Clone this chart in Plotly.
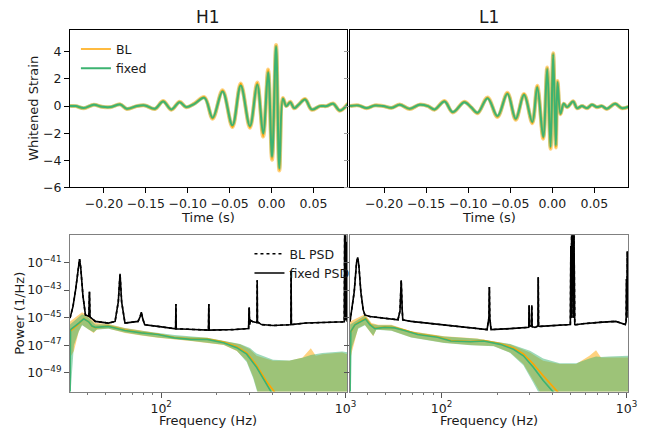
import numpy as np
import plotly.graph_objects as go

# ---------------- whitened strain data ----------------
h1_t = [-0.2405, -0.2338, -0.2240, -0.2121, -0.2023, -0.1924, -0.1806, -0.1727, -0.1609, -0.1511,
        -0.1392, -0.1294, -0.1195, -0.1097, -0.1018, -0.0920, -0.0801, -0.0703, -0.0585, -0.0467,
        -0.0368, -0.0258, -0.0171, -0.0100, -0.0041, 0.0006, 0.0054, 0.0093, 0.0136, 0.0176,
        0.0223, 0.0270, 0.0322, 0.0400, 0.0479, 0.0578, 0.0656, 0.0735, 0.0814, 0.0913]
h1_fixed = [0, 0, -0.147, 0.098, -0.049, -0.073, 0.122, -0.195, 0, 0.049,
            -0.195, 0.342, -0.244, 0.293, -0.073, 0.171, 0.611, -0.855, 1.074, -1.416,
            1.514, -1.465, 1.587, -2.027, 2.491, -3.736, 4.396, -4.591, 0.537, 0,
            0.293, -0.147, 0.098, 0.488, -0.244, 0, 0, 0.171, -0.317, 0.171]
h1_bl = [0, 0, -0.16, 0.1, -0.05, -0.08, 0.13, -0.21, 0, 0.05,
         -0.21, 0.37, -0.27, 0.32, -0.08, 0.19, 0.66, -0.93, 1.17, -1.55,
         1.66, -1.6, 1.74, -2.25, 2.7, -3.95, 4.5, -4.75, 0.6, 0,
         0.32, -0.16, 0.1, 0.53, -0.27, 0, 0, 0.19, -0.34, 0.19]

l1_t = [-0.2405, -0.2307, -0.2208, -0.2110, -0.2011, -0.1912, -0.1814, -0.1696, -0.1578, -0.1479,
        -0.1400, -0.1282, -0.1184, -0.1046, -0.0967, -0.0888, -0.0770, -0.0652, -0.0534, -0.0435,
        -0.0336, -0.0238, -0.0179, -0.0108, -0.0061, -0.0021, 0.0010, 0.0042, 0.0062, 0.0097,
        0.0136, 0.0176, 0.0247, 0.0294, 0.0353, 0.0412, 0.0471, 0.0530, 0.0589, 0.0649,
        0.0747, 0.0826, 0.0928]
l1_fixed = [0, 0.049, -0.147, 0.049, 0, -0.122, 0.098, -0.195, 0.098, 0,
            -0.244, 0.342, -0.440, 0.293, -0.073, -0.488, 0.586, -0.733, 0.904, -0.928,
            0.830, -1.172, 1.392, -2.271, 2.735, -3.004, 3.834, -2.882, 1.758, -0.562,
            0.171, -0.073, 0.342, -0.147, 0, -0.147, 0.098, -0.073, 0, -0.195,
            0.171, -0.147, 0]
l1_bl = [0, 0.055, -0.16, 0.055, 0, -0.13, 0.11, -0.21, 0.11, 0,
         -0.26, 0.37, -0.47, 0.32, -0.08, -0.52, 0.64, -0.8, 0.98, -1.0,
         0.9, -1.26, 1.5, -2.4, 2.85, -3.15, 3.9, -3.05, 1.85, -0.6,
         0.18, -0.08, 0.36, -0.16, 0, -0.16, 0.1, -0.08, 0, -0.21,
         0.18, -0.16, 0]

time_ticks = [-0.20, -0.15, -0.10, -0.05, 0.00, 0.05]
time_ticktext = ["\u22120.20", "\u22120.15", "\u22120.10", "\u22120.05", "0.00", "0.05"]
strain_ticks = [-6, -4, -2, 0, 2, 4]
strain_ticktext = ["\u22126", "\u22124", "\u22122", "0", "2", "4"]

# ---------------- PSD data (log10 power) ----------------
h1_psd_f = [32.0, 33.2, 34.3, 35.4, 36.05, 36.6, 37.6, 38.8, 40.1, 40.5, 40.8, 41.1, 43.9, 51.7, 56.2, 58.5,
            59.8, 61.0, 63.6, 74.9, 77.0, 78.0, 79.5, 81.4, 95.9, 117.8, 119.7, 120.2, 120.7, 150,
            180.5, 181.3, 182.1, 250, 298, 299.6, 300.4, 301.5, 306, 315, 330.8, 331.8, 332.8, 350,
            404, 496.5, 505.5, 506.9, 508.5, 609.6, 748.8, 958.3, 985, 990, 995, 1000, 1005, 1010,
            1015, 1024]
h1_psd_logp = [-45.03, -44.2, -43.0, -41.3, -40.76, -41.4, -43.4, -44.80, -44.91, -44.9, -43.13, -44.95,
               -45.27, -45.39, -45.27, -43.85, -41.83, -43.85, -45.39, -45.27, -44.9, -44.61, -45.1,
               -45.51, -45.63, -45.79, -45.8, -44.01, -45.8, -45.85, -45.9, -44.01, -45.9, -45.86,
               -45.78, -44.4, -44.27, -45.5, -45.2, -45.3, -45.35, -42.30, -45.3, -45.5, -45.57,
               -45.51, -45.5, -41.59, -45.5, -45.39, -45.34, -45.27, -45.3, -38.5, -45.1, -38.8,
               -45.2, -39.5, -45.2, -45.3]

l1_psd_f = [32.0, 33.7, 34.7, 35.2, 35.7, 36.6, 37.7, 38.5, 40.9, 45.4, 51.3, 58.1, 59.6, 60.5, 61.3,
            61.7, 68.4, 84.0, 103.2, 126.8, 155.7, 176.2, 180.3, 181.3, 182.3, 185.1, 234.9, 294.5,
            296, 297.5, 299, 306.5, 307.5, 309, 319.8, 332.2, 333.2, 334.5, 340.1, 384.7, 492.4,
            497, 500, 503, 505, 510, 515, 520, 525, 530.1, 580.3, 742.7, 875.4, 985, 995, 1000,
            1004, 1010, 1016, 1022, 1024]
l1_psd_logp = [-45.27, -43.13, -41.0, -40.64, -41.21, -43.13, -44.44, -44.80, -44.91, -44.99, -45.10,
               -45.15, -44.5, -42.30, -44.5, -45.15, -45.27, -45.39, -45.51, -45.63, -45.74, -45.86,
               -45.0, -42.78, -45.0, -45.86, -45.79, -45.70, -45.7, -44.1, -45.6, -45.6, -44.1,
               -45.65, -45.70, -45.6, -42.07, -45.6, -45.63, -45.58, -45.51, -45.5, -39.81, -45.0,
               -38.5, -38.5, -45.0, -39.0, -45.5, -45.51, -45.44, -45.32, -45.27, -45.5, -45.3,
               -42.2, -45.0, -40.2, -44.5, -41.0, -44.0]

# signal spectra: medians
h1_fixed_med_f = [32.0, 32.2, 35.7, 38.0, 40.4, 42.1, 43.9, 51.7, 56.2, 63.6, 78.0, 95.9, 117.8, 144.6,
                  177.6, 218.2, 257.2, 290.9, 329.2, 372.4, 404.3, 430]
h1_fixed_med = [-51.0, -45.86, -45.4, -45.08, -45.3, -45.6, -45.70, -45.63, -45.74, -45.93, -46.10,
                -46.22, -46.46, -46.57, -46.57, -46.81, -47.17, -47.64, -48.59, -49.78, -50.49, -51.2]
h1_bl_med_f = [32.0, 35.7, 38.0, 40.4, 42.1, 43.9, 51.7, 56.2, 63.6, 78.0, 95.9, 117.8, 144.6, 177.6,
               218.2, 257.2, 290.9, 329.2, 372.4, 412.7, 440]
h1_bl_med = [-46.0, -45.45, -45.05, -45.3, -45.62, -45.72, -45.6, -45.72, -45.9, -46.08, -46.2, -46.43,
             -46.55, -46.55, -46.76, -47.1, -47.55, -48.45, -49.6, -50.4, -51.0]

# signal spectra: credible bands (upper / lower)
h1_bl_up_f = [32.0, 37.2, 40.4, 43.9, 51.7, 63.6, 78.0, 117.8, 177.6, 268.0, 303.1, 329.2, 404.3, 496.5,
              585.2, 648.5, 690.0, 748.8, 958.3, 1024]
h1_bl_up = [-45.27, -44.61, -44.91, -45.39, -45.46, -45.74, -45.93, -46.34, -46.46, -46.93, -47.29,
            -47.76, -48.12, -48.12, -47.88, -47.22, -47.76, -47.64, -47.52, -47.64]
h1_bl_lo_f = [32.0, 33.6, 35.7, 37.2, 40.4, 43.0, 44.8, 51.7, 63.6, 78.0, 95.9, 144.6, 218.2, 257.2,
              290.9, 315.9, 336.0, 360, 1024]
h1_bl_lo = [-47.88, -47.41, -46.0, -45.51, -45.86, -46.10, -45.86, -45.79, -46.10, -46.29, -46.46,
            -46.69, -46.98, -47.41, -48.12, -49.30, -50.49, -52.0, -52.0]
h1_fx_up_f = [32.0, 37.2, 40.4, 43.9, 51.7, 63.6, 78.0, 117.8, 177.6, 268.0, 303.1, 329.2, 404.3, 496.5,
              585.2, 648.5, 748.8, 958.3, 1024]
h1_fx_up = [-45.5, -44.75, -45.0, -45.5, -45.5, -45.76, -45.95, -46.25, -46.46, -46.9, -47.2, -47.6,
            -48.05, -48.1, -47.9, -47.7, -47.55, -47.45, -47.5]
h1_fx_lo_f = [32.0, 33.6, 35.7, 37.2, 40.4, 43.0, 44.8, 51.7, 63.6, 78.0, 95.9, 144.6, 218.2, 257.2,
              290.9, 315.9, 336.0, 360, 1024]
h1_fx_lo = [-51.0, -47.0, -46.0, -45.55, -45.85, -46.05, -45.85, -45.8, -46.08, -46.27, -46.44, -46.67,
            -46.95, -47.4, -48.2, -49.4, -50.6, -52.0, -52.0]

l1_fixed_med_f = [32.0, 32.3, 34.0, 36.9, 38.8, 40.9, 43.6, 49.3, 55.7, 63.0, 74.3, 95.1, 112.1, 143.4,
                  169.1, 207.7, 244.8, 276.9, 313.3, 354.4, 400.9, 430]
l1_fixed_med = [-51.0, -45.98, -45.51, -45.22, -45.10, -45.51, -45.79, -45.70, -45.74, -45.93, -46.22,
                -46.41, -46.69, -46.74, -46.69, -46.93, -47.29, -47.76, -48.59, -49.54, -50.37, -51.0]
l1_bl_med_f = [32.3, 34.0, 36.9, 38.8, 40.9, 43.6, 49.3, 55.7, 63.0, 74.3, 95.1, 112.1, 143.4, 169.1,
               207.7, 244.8, 276.9, 313.3, 354.4, 400.9, 426.4, 450]
l1_bl_med = [-46.05, -45.5, -45.2, -45.05, -45.45, -45.75, -45.68, -45.72, -45.9, -46.18, -46.38, -46.66,
             -46.72, -46.66, -46.88, -47.2, -47.62, -48.35, -49.2, -49.95, -50.4, -51.0]

l1_bl_up_f = [32.0, 38.5, 41.8, 45.4, 53.5, 68.4, 103.2, 155.7, 234.9, 300.6, 354.4, 435.3, 534.6, 630.3,
              684.3, 727.6, 806.4, 1024]
l1_bl_up = [-45.27, -44.75, -45.39, -45.51, -45.51, -45.98, -46.34, -46.50, -46.93, -47.52, -48.12,
            -48.35, -48.35, -47.76, -47.36, -47.88, -47.88, -47.88]
l1_bl_lo_f = [32.0, 32.7, 35.4, 38.5, 42.7, 44.4, 53.5, 68.4, 103.2, 143.4, 191.3, 234.9, 276.9, 313.3,
              340.1, 360, 1024]
l1_bl_lo = [-48.12, -47.5, -45.74, -45.51, -46.34, -45.86, -45.93, -46.41, -46.81, -46.98, -47.05,
            -47.52, -48.35, -49.54, -50.37, -51.5, -52.0]
l1_fx_up_f = [32.0, 38.5, 41.8, 45.4, 53.5, 68.4, 103.2, 155.7, 234.9, 300.6, 354.4, 435.3, 534.6, 630.3,
              684.3, 727.6, 806.4, 1024]
l1_fx_up = [-45.5, -44.85, -45.45, -45.55, -45.55, -46.0, -46.36, -46.52, -46.9, -47.4, -47.95, -48.3,
            -48.3, -47.95, -47.8, -47.85, -47.8, -47.75]
l1_fx_lo_f = [32.0, 32.7, 35.4, 38.5, 42.7, 44.4, 53.5, 68.4, 103.2, 143.4, 191.3, 234.9, 276.9, 313.3,
              340.1, 360, 1024]
l1_fx_lo = [-47.6, -47.2, -45.8, -45.55, -46.3, -45.88, -45.95, -46.43, -46.83, -47.0, -47.07, -47.55,
            -48.45, -49.7, -50.6, -51.6, -52.0]

power_ticks_exp = [-41, -43, -45, -47, -49]
freq_major = [100, 1000]
freq_major_text = ["10<sup>2</sup>", "10<sup>3</sup>"]
freq_minor = [40, 50, 60, 70, 80, 90, 200, 300, 400, 500, 600, 700, 800, 900]

# ---------------- styling ----------------
ORANGE = "#FFA500"
GREEN = "#3CB371"
ORANGE_BAND = "rgba(255,165,0,0.5)"
GREEN_BAND = "rgba(60,179,113,0.5)"
FONT = "DejaVu Sans"
TXT = "#1a1a1a"

W, H = 646, 437
def px(x):
    return x / W
def py(y):
    return 1 - y / H

XL = [px(71), px(352.3)]
XR = [px(355), px(637.3)]
YT = [py(190.5), py(30)]
YB = [py(398), py(239)]

fig = go.Figure()

def P(v):
    return np.power(10.0, np.asarray(v, dtype=float))

def band(xu, yu, xl, yl, color, xa, ya):
    xs = list(xu) + list(xl)[::-1]
    ys = list(P(yu)) + list(P(yl))[::-1]
    fig.add_trace(go.Scatter(x=xs, y=ys, fill="toself", fillcolor=color, mode="none",
                             showlegend=False, xaxis=xa, yaxis=ya, hoverinfo="skip"))

# --- top panels: whitened strain ---
for (t, bl, fx, xa, ya, leg) in [(h1_t, h1_bl, h1_fixed, "x", "y", True),
                                 (l1_t, l1_bl, l1_fixed, "x2", "y2", False)]:
    fig.add_trace(go.Scatter(x=t, y=bl, mode="lines", line=dict(color="rgba(255,165,0,0.5)", width=4, shape="spline"),
                             showlegend=False, xaxis=xa, yaxis=ya, hoverinfo="skip"))
    fig.add_trace(go.Scatter(x=t, y=fx, mode="lines", line=dict(color="rgba(60,179,113,0.35)", width=3.5, shape="spline"),
                             showlegend=False, xaxis=xa, yaxis=ya, hoverinfo="skip"))
    fig.add_trace(go.Scatter(x=t, y=bl, mode="lines", name="BL", line=dict(color=ORANGE, width=1.6, shape="spline"),
                             showlegend=leg, legend="legend", xaxis=xa, yaxis=ya))
    fig.add_trace(go.Scatter(x=t, y=fx, mode="lines", name="fixed", line=dict(color=GREEN, width=2, shape="spline"),
                             showlegend=leg, legend="legend", xaxis=xa, yaxis=ya))

# --- bottom panels: PSDs ---
panels = [
    (h1_bl_up_f, h1_bl_up, h1_bl_lo_f, h1_bl_lo, h1_fx_up_f, h1_fx_up, h1_fx_lo_f, h1_fx_lo,
     h1_bl_med_f, h1_bl_med, h1_fixed_med_f, h1_fixed_med, h1_psd_f, h1_psd_logp, "x3", "y3", True),
    (l1_bl_up_f, l1_bl_up, l1_bl_lo_f, l1_bl_lo, l1_fx_up_f, l1_fx_up, l1_fx_lo_f, l1_fx_lo,
     l1_bl_med_f, l1_bl_med, l1_fixed_med_f, l1_fixed_med, l1_psd_f, l1_psd_logp, "x4", "y4", False),
]
for (buf, bu, blf, bl, fuf, fu, flf, fl, bmf, bm, fmf, fm, pf, pp, xa, ya, leg) in panels:
    band(buf, bu, blf, bl, ORANGE_BAND, xa, ya)
    band(fuf, fu, flf, fl, GREEN_BAND, xa, ya)
    fig.add_trace(go.Scatter(x=bmf, y=P(bm), mode="lines", line=dict(color=ORANGE, width=1.6),
                             showlegend=False, xaxis=xa, yaxis=ya))
    fig.add_trace(go.Scatter(x=fmf, y=P(fm), mode="lines", line=dict(color=GREEN, width=1.6),
                             showlegend=False, xaxis=xa, yaxis=ya))
    fig.add_trace(go.Scatter(x=pf, y=P(pp), mode="lines", name="BL PSD",
                             line=dict(color="black", width=1.6, dash="dot"),
                             showlegend=leg, legend="legend2", xaxis=xa, yaxis=ya))
    fig.add_trace(go.Scatter(x=pf, y=P(pp), mode="lines", name="fixed PSD",
                             line=dict(color="black", width=1.6),
                             showlegend=leg, legend="legend2", xaxis=xa, yaxis=ya))

tickfont = dict(family=FONT, size=12.5, color=TXT)
common_top = dict(showline=True, mirror=True, linecolor="black", linewidth=1, showgrid=False,
                  zeroline=False, ticks="outside", ticklen=5, tickcolor="black", tickfont=tickfont)
common_bot = dict(showline=True, mirror=True, linecolor="#808080", linewidth=1, showgrid=False,
                  zeroline=False, ticks="outside", ticklen=5, tickcolor="#555", tickfont=tickfont)

tr = [-0.2405, 0.0905]
yr = [-6.0, 5.65]
xlog = [np.log10(32), np.log10(1024)]
ylog = [-50.35, -39.03]

ptext = ["10<sup>\u2212%d</sup>" % (-e) for e in power_ticks_exp]
pvals = list(P(power_ticks_exp))

minor = dict(ticks="outside", ticklen=2.5, tickcolor="#777", tickmode="array", tickvals=freq_minor)

fig.update_layout(
    width=W, height=H, margin=dict(l=0, r=0, t=0, b=0),
    paper_bgcolor="white", plot_bgcolor="white",
    font=dict(family=FONT, size=12.5, color=TXT),
    xaxis=dict(domain=XL, anchor="y", range=tr, tickvals=time_ticks, ticktext=time_ticktext, **common_top),
    yaxis=dict(domain=YT, anchor="x", range=yr, tickvals=strain_ticks, ticktext=strain_ticktext, **common_top),
    xaxis2=dict(domain=XR, anchor="y2", range=tr, tickvals=time_ticks, ticktext=time_ticktext, **common_top),
    yaxis2=dict(domain=YT, anchor="x2", range=yr, tickvals=strain_ticks, showticklabels=False,
                **{**common_top, "tickcolor": "#999"}),
    xaxis3=dict(domain=XL, anchor="y3", type="log", range=xlog, tickvals=freq_major, ticktext=freq_major_text,
                minor=minor, **common_bot),
    yaxis3=dict(domain=YB, anchor="x3", type="log", range=ylog, tickvals=pvals, ticktext=ptext, **common_bot),
    xaxis4=dict(domain=XR, anchor="y4", type="log", range=xlog, tickvals=freq_major, ticktext=freq_major_text,
                minor=minor, **common_bot),
    yaxis4=dict(domain=YB, anchor="x4", type="log", range=ylog, tickvals=pvals, showticklabels=False, **common_bot),
    legend=dict(x=px(77), y=py(35), xanchor="left", yanchor="top", bgcolor="rgba(0,0,0,0)",
                font=dict(family=FONT, size=12.5, color=TXT), tracegroupgap=0, itemwidth=30),
    legend2=dict(x=px(253), y=py(243), xanchor="left", yanchor="top", bgcolor="rgba(0,0,0,0)",
                 font=dict(family=FONT, size=12.5, color=TXT), tracegroupgap=0, itemwidth=30),
)

ann = [
    dict(text="H1", x=px(211), y=py(17), font=dict(size=17)),
    dict(text="L1", x=px(496), y=py(17), font=dict(size=17)),
    dict(text="Time (s)", x=px(211), y=py(221)),
    dict(text="Time (s)", x=px(496), y=py(221)),
    dict(text="Frequency (Hz)", x=px(211), y=py(427)),
    dict(text="Frequency (Hz)", x=px(496), y=py(427)),
    dict(text="Whitened Strain", x=px(34), y=py(110), textangle=-90),
    dict(text="Power (1/Hz)", x=px(20), y=py(318), textangle=-90),
]
for a in ann:
    f = dict(family=FONT, size=13, color=TXT)
    f.update(a.pop("font", {}))
    fig.add_annotation(xref="paper", yref="paper", showarrow=False, xanchor="center", yanchor="middle",
                       font=f, **a)

fig.write_html("out.html")
